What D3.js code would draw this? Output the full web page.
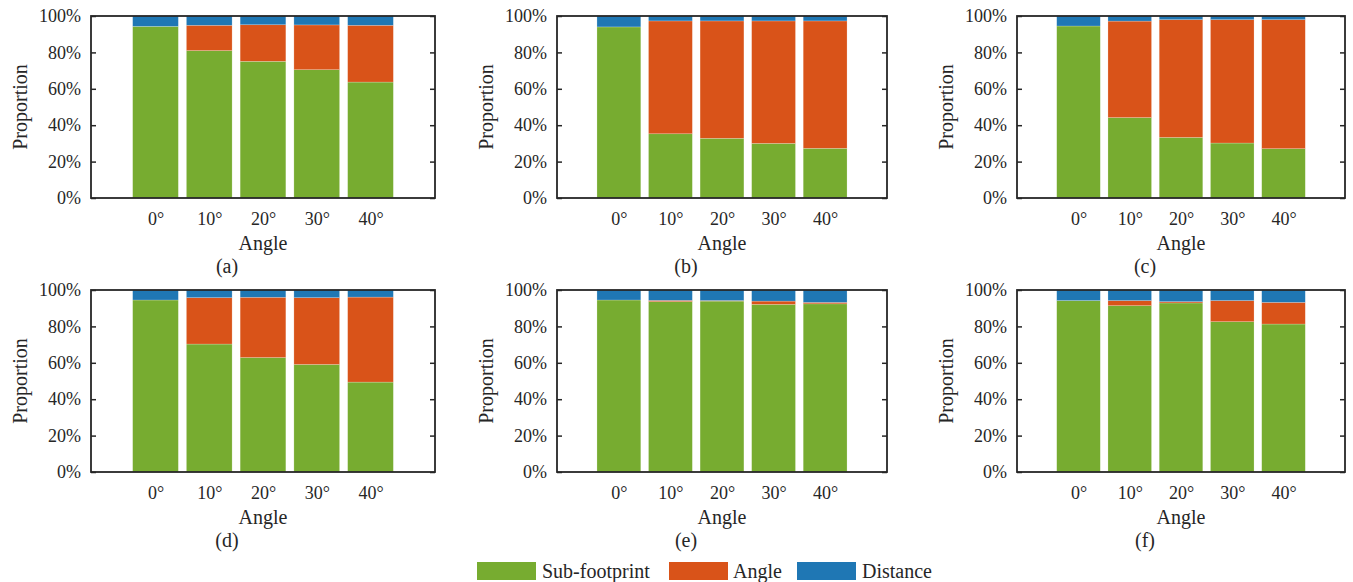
<!DOCTYPE html>
<html lang="en">
<head>
<meta charset="UTF-8">
<title>Proportion by Angle</title>
<script src="https://cdnjs.cloudflare.com/ajax/libs/d3/7.8.5/d3.min.js"></script>
<style>
    body { margin: 0; background: #fff; }
</style>
</head>
<body>
<svg id="chart" width="1353" height="582"></svg>
<script>
// Data (percent)
const angles = ["0°", "10°", "20°", "30°", "40°"];
const panelNames = ["(a)", "(b)", "(c)", "(d)", "(e)", "(f)"];
const seriesNames = ["Sub-footprint", "Angle", "Distance"];

const subA = [94.3, 81.0, 75.1, 70.5, 63.7];
const angA = [0, 13.9, 20.1, 24.6, 31.2];
const disA = [5.7, 5.1, 4.8, 4.9, 5.1];

const subB = [94.0, 35.3, 32.8, 30.0, 27.3];
const angB = [0, 62.0, 64.5, 67.3, 70.0];
const disB = [6.0, 2.7, 2.7, 2.7, 2.7];

const subC = [94.5, 44.2, 33.3, 30.2, 27.1];
const angC = [0, 53.0, 64.7, 67.8, 70.9];
const disC = [5.5, 2.8, 2.0, 2.0, 2.0];

const subD = [94.5, 70.3, 62.9, 59.1, 49.4];
const angD = [0, 25.5, 33.1, 36.7, 46.7];
const disD = [5.5, 4.2, 4.0, 4.2, 3.9];

const subE = [94.5, 93.6, 93.9, 92.1, 92.4];
const angE = [0, 0.7, 0.3, 1.8, 0.8];
const disE = [5.5, 5.7, 5.8, 6.1, 6.8];

const subF = [94.2, 91.4, 92.9, 82.6, 81.3];
const angF = [0, 2.8, 0.7, 11.6, 11.9];
const disF = [5.8, 5.8, 6.4, 5.8, 6.8];

const panelData = [
    [subA, angA, disA], [subB, angB, disB], [subC, angC, disC],
    [subD, angD, disD], [subE, angE, disE], [subF, angF, disF]
];

const colors = { "Sub-footprint": "#77ac30", "Angle": "#d95319", "Distance": "#1f77b4" };
const textColor = "#262626";
const FONT = "'Liberation Serif', 'Times New Roman', Tinos, 'DejaVu Serif', serif";

// Layout
const cols = [[91, 435], [557, 887], [1017, 1345]];
const rows = [[16, 198], [290, 472]];

const svg = d3.select("#chart");

function label(sel, size) {
    return sel.style("font-family", FONT).attr("font-size", size).attr("fill", textColor);
}

panelData.forEach((series, p) => {
    const [x0, x1] = cols[p % 3];
    const [y0, y1] = rows[Math.floor(p / 3)];

    const rowsData = angles.map((a, i) => ({
        angle: a,
        i: i,
        "Sub-footprint": series[0][i],
        "Angle": series[1][i],
        "Distance": series[2][i]
    }));
    const stacked = d3.stack().keys(seriesNames)(rowsData);

    const x = d3.scaleLinear().domain([-0.2, 6.2]).range([x0, x1]);
    const y = d3.scaleLinear().domain([0, 100]).range([y1, y0]);
    const bw = (x(1) - x(0)) * 0.85;

    const g = svg.append("g");

    // bars
    g.selectAll("g.layer")
        .data(stacked)
        .join("g")
        .attr("class", "layer")
        .attr("fill", d => colors[d.key])
        .selectAll("rect")
        .data(d => d)
        .join("rect")
        .attr("x", d => x(d.data.i + 1) - bw / 2)
        .attr("width", bw)
        .attr("y", d => y(d[1]))
        .attr("height", d => Math.max(0, y(d[0]) - y(d[1])))
        .attr("stroke", "rgba(255,255,255,0.35)")
        .attr("stroke-width", 0.6);

    // y axis (left), ticks inward
    const yTicks = d3.range(0, 101, 20);
    const yAxis = d3.axisLeft(y).tickValues(yTicks).tickSize(-5).tickPadding(10)
        .tickFormat(d => d + "%");
    const ya = g.append("g").attr("transform", `translate(${x0},0)`).call(yAxis);
    ya.select(".domain").remove();
    ya.selectAll("line").attr("stroke", textColor).attr("stroke-width", 1.5);
    label(ya.selectAll("text"), 18);

    // right ticks
    const yr = g.append("g").attr("transform", `translate(${x1},0)`)
        .call(d3.axisRight(y).tickValues(yTicks).tickSize(-5).tickFormat(""));
    yr.select(".domain").remove();
    yr.selectAll("line").attr("stroke", textColor).attr("stroke-width", 1.5);

    // x tick labels
    const xa = g.append("g").attr("transform", `translate(0,${y1})`)
        .call(d3.axisBottom(x).tickValues([1, 2, 3, 4, 5]).tickSize(0).tickPadding(14)
            .tickFormat(d => angles[d - 1]));
    xa.select(".domain").remove();
    label(xa.selectAll("text"), 18);

    // box
    g.append("rect")
        .attr("x", x0).attr("y", y0)
        .attr("width", x1 - x0).attr("height", y1 - y0)
        .attr("fill", "none")
        .attr("stroke", textColor)
        .attr("stroke-width", 1.8);

    // axis labels
    label(g.append("text"), 20)
        .attr("x", (x0 + x1) / 2).attr("y", y1 + 52)
        .attr("text-anchor", "middle")
        .text("Angle");
    label(g.append("text"), 20)
        .attr("transform", `translate(${x0 - 64},${(y0 + y1) / 2}) rotate(-90)`)
        .attr("text-anchor", "middle")
        .text("Proportion");

    // caption
    label(g.append("text"), 20)
        .attr("x", (x0 + x1) / 2 - 36).attr("y", y1 + 75)
        .attr("text-anchor", "middle")
        .text(panelNames[p]);
});

// Legend
const legendItems = [
    { name: "Sub-footprint", sx: 477, tx: 542 },
    { name: "Angle", sx: 669, tx: 733 },
    { name: "Distance", sx: 797, tx: 862 }
];
const lg = svg.append("g");
lg.selectAll("rect").data(legendItems).join("rect")
    .attr("x", d => d.sx).attr("y", 562)
    .attr("width", 59).attr("height", 18)
    .attr("fill", d => colors[d.name]);
label(lg.selectAll("text").data(legendItems).join("text"), 20)
    .attr("x", d => d.tx).attr("y", 578)
    .text(d => d.name);
</script>
</body>
</html>
